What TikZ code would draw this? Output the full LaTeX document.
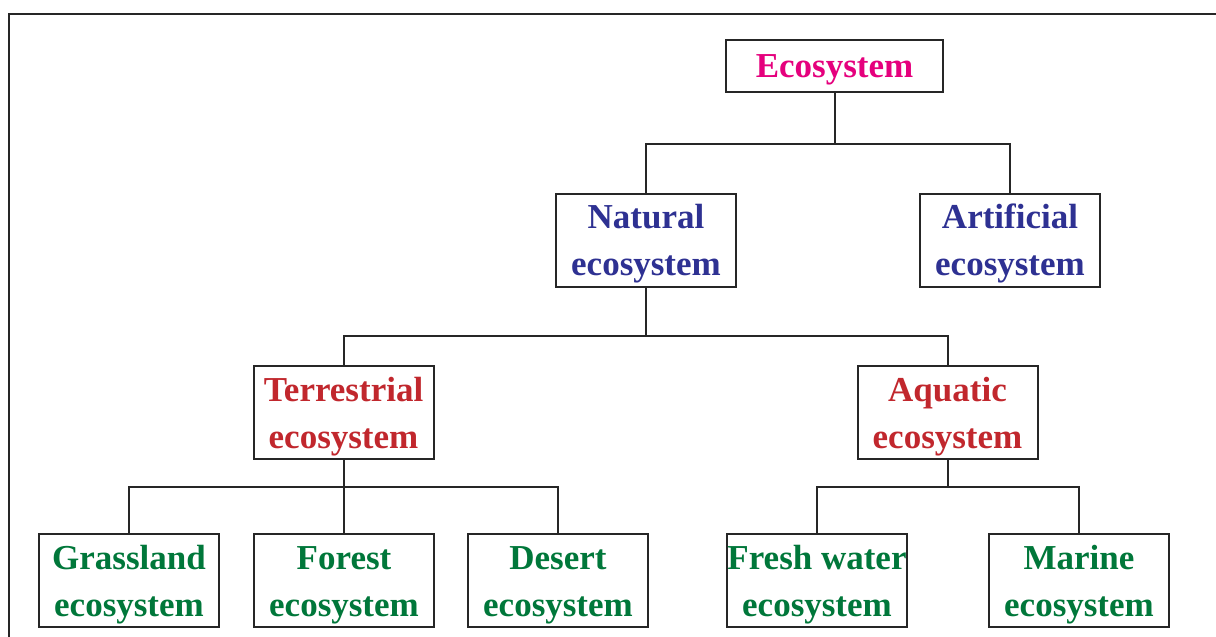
\documentclass[tikz,border=0pt]{standalone}
\usepackage{fontspec}
\setmainfont{Liberation Serif}
\usepackage{xcolor}
\usepackage{tikz}
\usetikzlibrary{positioning}

\definecolor{ecopink}{HTML}{E5007D}
\definecolor{econavy}{HTML}{2E3192}
\definecolor{ecored}{HTML}{C1272D}
\definecolor{ecogreen}{HTML}{00773A}

\begin{document}
\begin{tikzpicture}[
  x=0.5pt, y=-0.5pt,
  box/.style={draw=black!85, line width=1pt, fill=white, align=center, inner sep=0pt,
    minimum width=90pt, minimum height=46.5pt,
    font=\fontsize{17.5}{23.5}\selectfont\bfseries},
  twoline/.style={box, execute at begin node={\rule{0pt}{39.5pt}}},
  link/.style={draw=black!85, line width=1pt}
]
\useasboundingbox (0,0) rectangle (1216,637);
% outer frame, open at right and bottom
\draw[line width=1.3pt, black!85] (9,640) -- (9,14) -- (1220,14);

\node[box, text=ecopink, minimum width=108.5pt, minimum height=26pt,
  execute at begin node={\rule{0pt}{15pt}}] (eco) at (834.5,66) {Ecosystem};
\node[twoline, text=econavy] (natural) at (646,240) {Natural\\ecosystem};
\node[twoline, text=econavy] (artificial) at (1010,240) {Artificial\\ecosystem};
\node[twoline, text=ecored] (terrestrial) at (343.5,412.5) {Terrestrial\\ecosystem};
\node[twoline, text=ecored] (aquatic) at (947.5,412.5) {Aquatic\\ecosystem};
\node[twoline, text=ecogreen] (grass) at (129,580.5) {Grassland\\ecosystem};
\node[twoline, text=ecogreen] (forest) at (344,580.5) {Forest\\ecosystem};
\node[twoline, text=ecogreen] (desert) at (558,580.5) {Desert\\ecosystem};
\node[twoline, text=ecogreen] (fresh) at (817,580.5) {Fresh water\\ecosystem};
\node[twoline, text=ecogreen] (marine) at (1079,580.5) {Marine\\ecosystem};

\draw[link] (eco.south) -- ++(0,51) -| (natural.north);
\draw[link] (eco.south) -- ++(0,51) -| (artificial.north);
\draw[link] (natural.south) -- ++(0,48) -| (terrestrial.north);
\draw[link] (natural.south) -- ++(0,48) -| (aquatic.north);
\draw[link] (terrestrial.south) -- ++(0,27) -| (grass.north);
\draw[link] (terrestrial.south) -- ++(0,27) -| (forest.north);
\draw[link] (terrestrial.south) -- ++(0,27) -| (desert.north);
\draw[link] (aquatic.south) -- ++(0,27) -| (fresh.north);
\draw[link] (aquatic.south) -- ++(0,27) -| (marine.north);
\end{tikzpicture}
\end{document}
